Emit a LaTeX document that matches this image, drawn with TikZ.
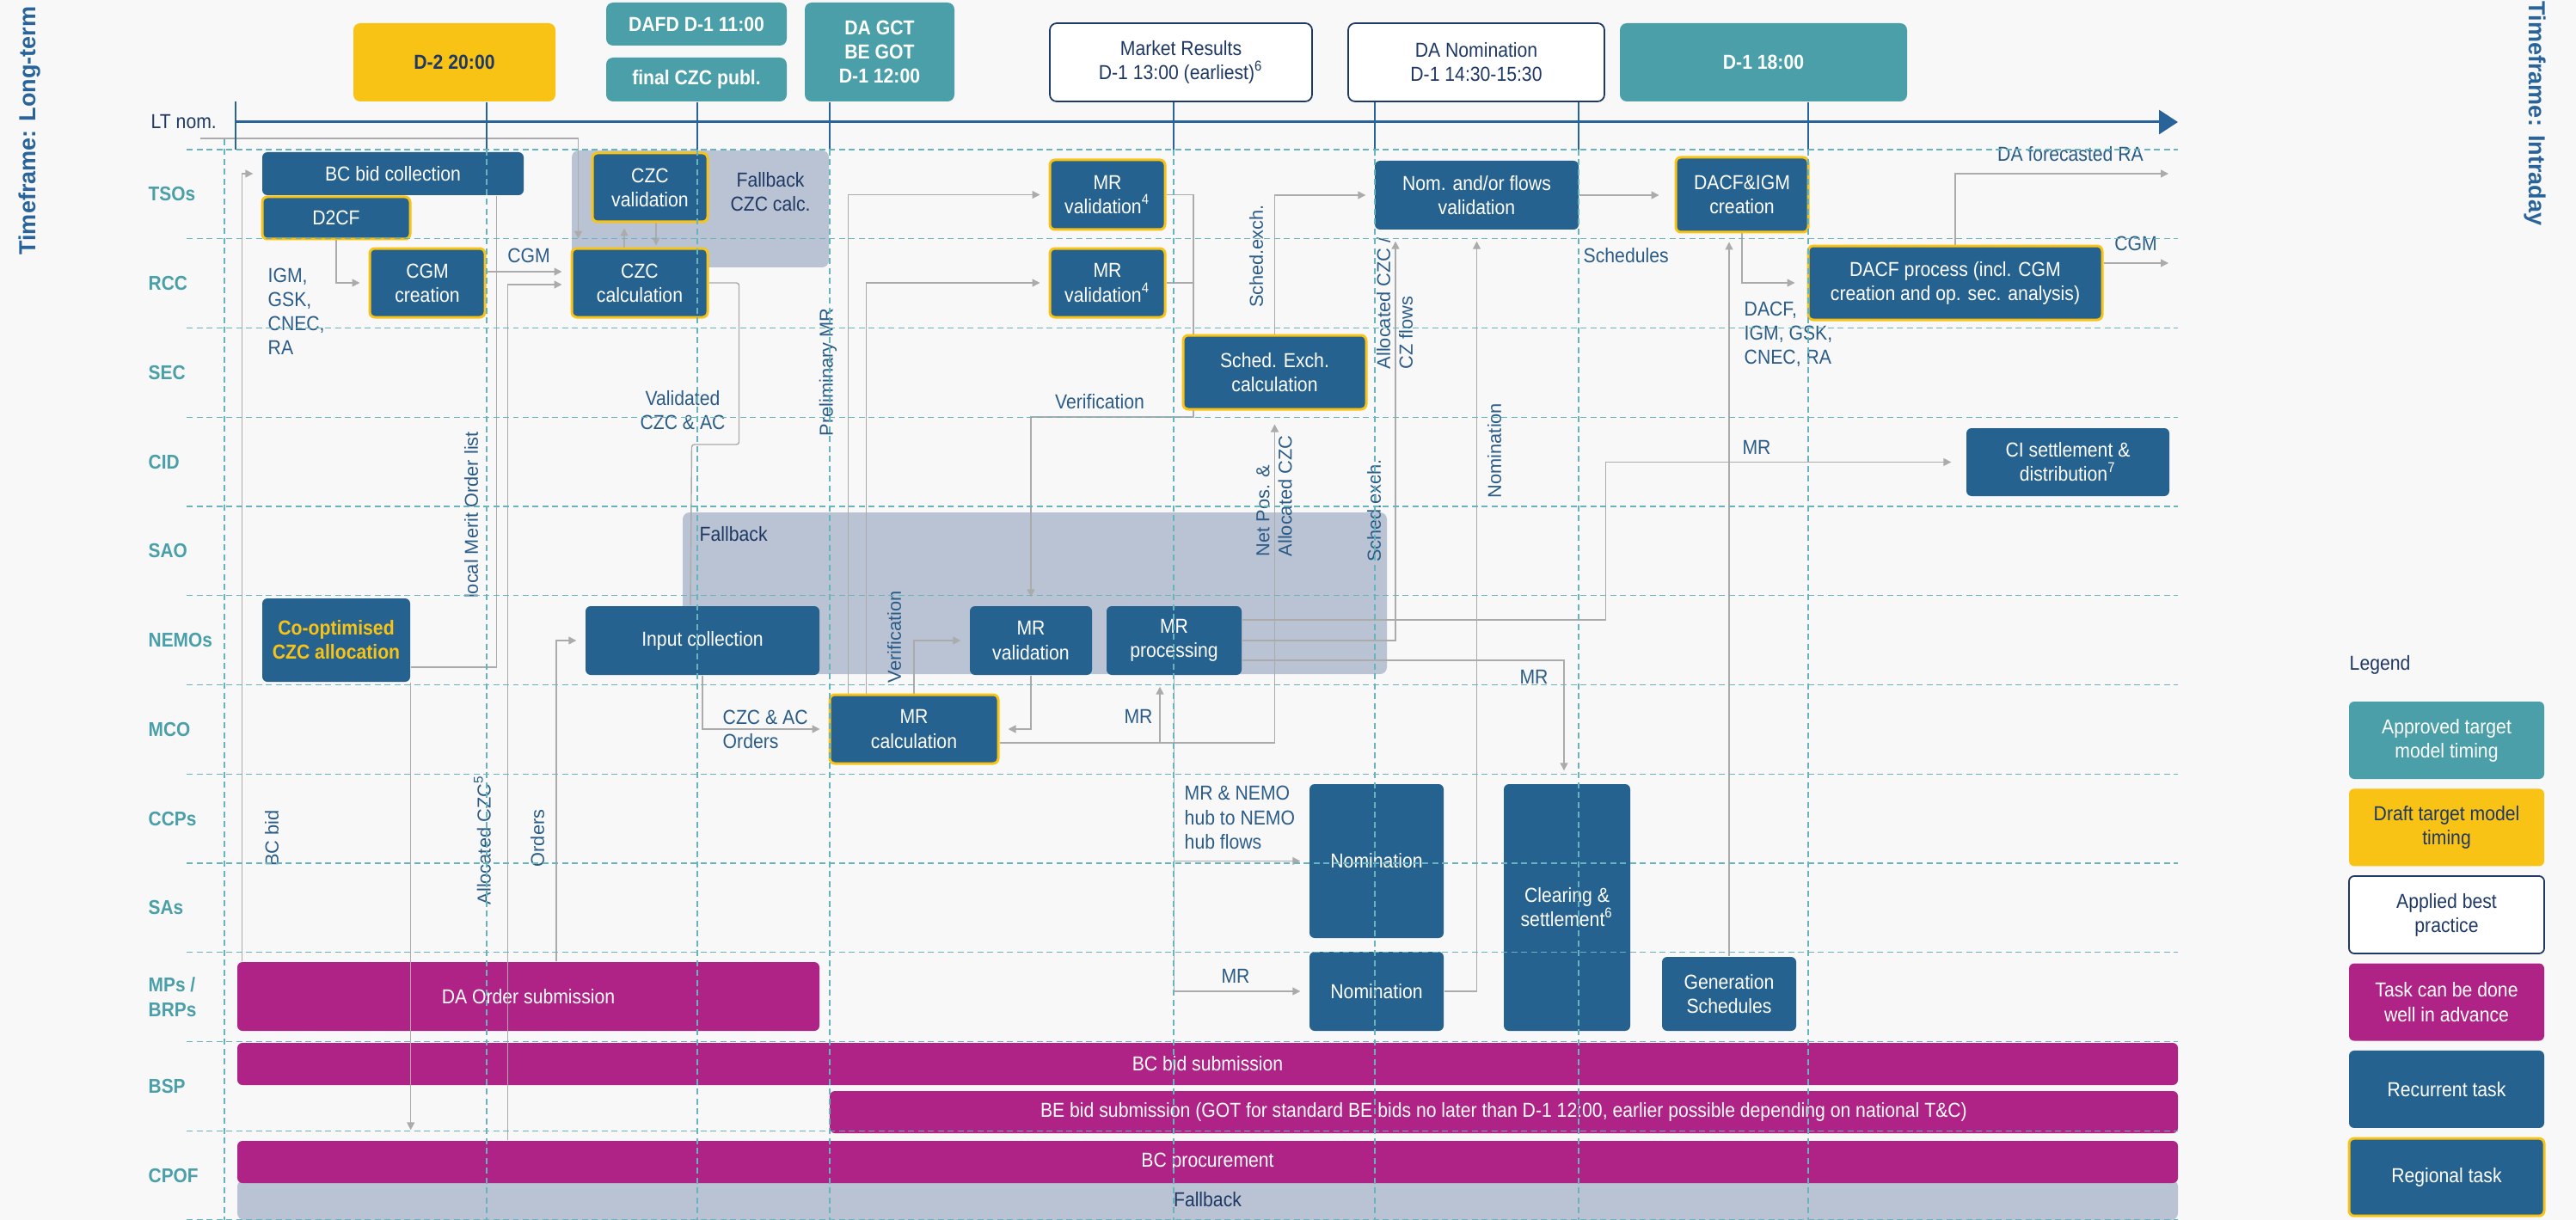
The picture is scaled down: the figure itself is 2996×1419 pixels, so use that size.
\documentclass[tikz,border=0pt]{standalone}
\usepackage{fontspec}
\setmainfont{Liberation Sans}[FakeStretch=0.9]
\newfontfamily\lblfont{Liberation Sans}
\usepackage{xcolor}
\usetikzlibrary{arrows.meta,positioning}

\pgfdeclarelayer{bg}
\pgfdeclarelayer{links}
\pgfdeclarelayer{grid}
\pgfsetlayers{bg,links,main,grid}

\definecolor{taskblue}{HTML}{26628F}
\definecolor{regyellow}{HTML}{F9C315}
\definecolor{tealc}{HTML}{4A9FA8}
\definecolor{advmag}{HTML}{B02386}
\definecolor{fbgray}{HTML}{B9C3D3}
\definecolor{linkgray}{HTML}{ABABAB}
\definecolor{labelblue}{HTML}{2B5C88}
\definecolor{navy}{HTML}{1F3864}
\definecolor{gridteal}{HTML}{68B4BC}
\definecolor{bgc}{HTML}{F8F8F8}
\definecolor{axisblue}{HTML}{28649A}

\begin{document}
\begin{tikzpicture}[
    x=0.1mm, y=-0.1mm,
    wh/.style 2 args={minimum width=#1mm, minimum height=#2mm},
    txt/.style={font=\fontsize{6.7}{8}\selectfont},
    task/.style={txt, fill=taskblue, text=white, rounded corners=0.6mm, align=center, inner sep=1pt},
    regional/.style={task, draw=regyellow, line width=0.3mm},
    advance/.style={task, fill=advmag},
    fbbox/.style={fill=fbgray, rounded corners=0.8mm, inner sep=0pt},
    mstone/.style={font={\fontsize{6.7}{8}\selectfont\bfseries}, fill=tealc, text=white, rounded corners=0.8mm, align=center, inner sep=1pt},
    best/.style={txt, fill=white, draw=navy, line width=0.5pt, text=navy, rounded corners=0.8mm, align=center, inner sep=1pt},
    legbox/.style={txt, align=center, rounded corners=0.6mm, text=white, wh={22.7}{9}},
    lbl/.style={txt, text=labelblue, inner sep=0pt, align=left},
    vlbl/.style={font={\lblfont\fontsize{6.2}{7.4}\selectfont}, text=labelblue, rotate=90, inner sep=0pt, align=left},
    lane/.style={font={\fontsize{6.6}{8}\selectfont\bfseries}, text=tealc, anchor=west, align=left, inner sep=0pt},
    title/.style={font={\lblfont\bfseries\fontsize{7.7}{9}\selectfont}, text=axisblue, inner sep=0pt},
    arr/.style={draw=linkgray, line width=0.4pt, shorten >=1mm, -{Triangle[length=0.9mm,width=0.9mm]}},
    link/.style={draw=linkgray, line width=0.4pt},
    gridh/.style={gridteal, line width=0.35pt, dash pattern=on 0.7mm off 0.45mm},
    msline/.style={axisblue, line width=0.35pt}
  ]
    \useasboundingbox (0,0) rectangle (2996,1419);

    \begin{pgfonlayer}{bg}
      \fill[bgc] (0,0) rectangle (2996,1419);
      % fallback areas
      \node[fbbox, wh={29.9}{13.6}] (fbczc) at (814.5,243) {};
      \node[fbbox, wh={81.9}{18.8}] (fbnemo) at (1203.5,690) {};
      % tasks that can be done in advance
      \node[advance, wh={67.7}{8}] (daorder) at (614.5,1159) {DA Order submission};
      \node[advance, wh={225.7}{4.9}] (bcbidsub) at (1404.5,1237.5) {BC bid submission};
      \node[advance, wh={156.8}{4.9}] (bebidsub) at (1749,1293.5) {BE bid submission (GOT for standard BE bids no later than D-1 12:00, earlier possible depending on national T\&C)};
      \node[fbbox, txt, text=navy, wh={225.7}{4.7}] (fbbottom) at (1404.5,1395.5) {Fallback};
      \node[advance, wh={225.7}{4.9}] (bcproc) at (1404.5,1351.5) {BC procurement};
    \end{pgfonlayer}

    % titles and lanes
    \node[title, rotate=90] (ttlong) at (35,152) {Timeframe: Long-term};
    \node[title, rotate=-90] (ttintra) at (2948,132) {Timeframe: Intraday};
    \node[lbl, anchor=west, text=navy] (ltnom) at (175,142) {LT nom.};
    \foreach \lname [count=\i from 0] in {TSOs,RCC,SEC,CID,SAO,NEMOs,MCO,CCPs,SAs,{MPs /\\BRPs},BSP,CPOF}
      \node[lane] (lane\i) at (172,{225.9+103.75*\i}) {\lname};

    % timeline
    \coordinate (tlstart) at (274,142);
    \coordinate (tlend) at (2533,142);
    \draw[axisblue, line width=0.3mm, -{Triangle[length=2.2mm,width=2.8mm]}] (tlstart) -- (tlend);
    \draw[msline] ([yshift=2.4mm]tlstart) -- ([yshift=-3.2mm]tlstart);
    \node[mstone, fill=regyellow, text=navy, wh={23.5}{9.1}] (msdtwo) at (528.5,72.5) {D-2 20:00};
    \node[mstone, wh={21}{5}] (msdafd) at (810,28) {DAFD D-1 11:00};
    \node[mstone, wh={21}{5.1}] (msfinal) at (810,92.5) {final CZC publ.};
    \node[mstone, wh={17.4}{11.5}] (msgct) at (1023,60.5) {DA GCT\\BE GOT\\D-1 12:00};
    \node[best, wh={30.5}{9.1}] (msmr) at (1373.5,72.5) {Market Results\\D-1 13:00 (earliest)\textsuperscript{6}};
    \node[best, wh={29.8}{9.1}] (msnom) at (1717,72.5) {DA Nomination\\D-1 14:30-15:30};
    \node[mstone, wh={33.4}{9.1}] (msdone) at (2051,72.5) {D-1 18:00};
    \draw[msline] ([xshift=3.75mm]msdtwo.south) -- ++(0,56);
    \draw[msline] ([xshift=0.1mm]msfinal.south) -- ++(0,56);
    \draw[msline] ([xshift=-5.8mm]msgct.south) -- ++(0,56);
    \draw[msline] ([xshift=-0.85mm]msmr.south) -- ++(0,56);
    \draw[msline] ([xshift=-11.8mm]msnom.south) -- ++(0,56);
    \draw[msline] ([xshift=11.9mm]msnom.south) -- ++(0,56);
    \draw[msline] ([xshift=5.2mm]msdone.south) -- ++(0,56);

    % TSOs / RCC / SEC
    \node[task, wh={30.4}{5}] (bcbid) at (457,202) {BC bid collection};
    \node[regional, wh={17.2}{4.9}] (dtwocf) at (391,253.5) {D2CF};
    \node[regional, wh={13.4}{8}] (cgm) at (497,329) {CGM\\creation};
    \node[regional, wh={13.4}{8}] (czcval) at (756,218) {CZC\\validation};
    \node[regional, wh={15.8}{8}] (czccalc) at (744,329) {CZC\\calculation};
    \node[txt, text=navy, align=center, inner sep=0pt] (lblfbczc) at (896,223) {Fallback\\CZC calc.};
    \node[regional, wh={13.4}{8.1}] (mrvaltso) at (1288,226.5) {MR\\validation\textsuperscript{4}};
    \node[regional, wh={13.4}{8}] (mrvalrcc) at (1288,329) {MR\\validation\textsuperscript{4}};
    \node[regional, wh={21.3}{8.6}] (schedexch) at (1482.5,433) {Sched. Exch.\\calculation};
    \node[task, wh={23.7}{8}] (nomval) at (1717.5,227) {Nom. and/or flows\\validation};
    \node[regional, wh={15.4}{8.7}] (dacfigm) at (2026,226.5) {DACF\&IGM\\creation};
    \node[regional, wh={34.2}{8.6}] (dacfproc) at (2274,329) {DACF process (incl. CGM\\creation and op. sec. analysis)};
    \node[task, wh={23.6}{7.9}] (cisettle) at (2405,537.5) {CI settlement \&\\distribution\textsuperscript{7}};

    % NEMOs / MCO
    \node[task, text=regyellow, font={\fontsize{6.7}{8}\selectfont\bfseries}, wh={17.2}{9.7}] (coopt) at (391,744.5) {Co-optimised\\CZC allocation};
    \node[txt, text=navy, anchor=west, inner sep=0pt] (lblfbnemo) at (813,621) {Fallback};
    \node[task, wh={27.2}{8}] (inputcoll) at (817,745) {Input collection};
    \node[task, wh={14.2}{8}] (mrvalnemo) at (1199,745) {MR\\validation};
    \node[task, wh={15.7}{8}] (mrproc) at (1365.5,745) {MR\\processing};
    \node[regional, wh={19.6}{8}] (mrcalc) at (1063,848) {MR\\calculation};

    % CCPs / SAs / MPs
    \node[task, wh={15.6}{17.9}] (nomccp) at (1601,1001.5) {Nomination};
    \node[task, wh={15.6}{9.2}] (nommp) at (1601,1153) {Nomination};
    \node[task, wh={14.7}{28.7}] (clearing) at (1822.5,1055.5) {Clearing \&\\settlement\textsuperscript{6}};
    \node[task, wh={15.6}{8.6}] (genschedule) at (2011,1156) {Generation\\Schedules};

    % legend
    \node[lbl, anchor=west, text=navy] (legend) at (2732,773) {Legend};
    \node[legbox, fill=tealc] (lgapproved) at (2845.5,861) {Approved target\\model timing};
    \node[legbox, fill=regyellow, text=navy, below=1mm of lgapproved] (lgdraft) {Draft target model\\timing};
    \node[legbox, fill=white, draw=navy, line width=0.5pt, text=navy, below=1mm of lgdraft] (lgbest) {Applied best\\practice};
    \node[legbox, fill=advmag, below=1mm of lgbest] (lgadvance) {Task can be done\\well in advance};
    \node[legbox, fill=taskblue, below=1mm of lgadvance] (lgrecur) {Recurrent task};
    \node[legbox, fill=taskblue, draw=regyellow, line width=0.3mm, below=1mm of lgrecur] (lgregion) {Regional task};

    % connector labels
    \node[lbl] (lblcgm) at (615,297) {CGM};
    \node[lbl, anchor=west] (lbligm) at (311,362) {IGM,\\GSK,\\CNEC,\\RA};
    \node[lbl, align=center] (lblvalid) at (794,477) {Validated\\CZC \& AC};
    \node[lbl, anchor=west] (lblczcac) at (840,848) {CZC \& AC\\Orders};
    \node[lbl] (lblverif) at (1279,467) {Verification};
    \node[lbl] (lblmrmco) at (1324,833) {MR};
    \node[lbl] (lblmrnemo) at (1784,787) {MR};
    \node[lbl] (lblmrcid) at (2043,520) {MR};
    \node[lbl, anchor=west] (lblsched) at (1841,297) {Schedules};
    \node[lbl, anchor=west] (lbldacf) at (2028,389) {DACF,\\IGM, GSK,\\CNEC, RA};
    \node[lbl] (lblcgmout) at (2484,283) {CGM};
    \node[lbl] (lblra) at (2408,179) {DA forecasted RA};
    \node[lbl, anchor=west] (lblhub) at (1377,951) {MR \& NEMO\\hub to NEMO\\hub flows};
    \node[lbl] (lblmrmp) at (1437,1135) {MR};
    \node[vlbl] (vlmol) at (548,599) {local Merit Order list};
    \node[vlbl] (vlbcbid) at (316,975) {BC bid};
    \node[vlbl] (vlalloc) at (561,977) {Allocated CZC\textsuperscript{5}};
    \node[vlbl] (vlorders) at (625,975) {Orders};
    \node[vlbl] (vlprelim) at (963,433) {Preliminary MR};
    \node[vlbl] (vlverif) at (1040,741) {Verification};
    \node[vlbl] (vlnetpos) at (1482,577) {Net Pos. \&\\Allocated CZC};
    \node[vlbl] (vlschedup) at (1461,298) {Sched.exch.};
    \node[vlbl] (vlschedlow) at (1598,594) {Sched.exch.};
    \node[vlbl] (vlczflows) at (1622,353) {Allocated CZC /\\CZ flows};
    \node[vlbl] (vlnom) at (1738,524) {Nomination};

    \begin{pgfonlayer}{links}
      \coordinate (ltstart) at (233,161);
      \coordinate (verifturn) at (1388,485);
      \coordinate (cgmout) at (2522,306);
      \coordinate (raout) at (2522,202);
      \draw[arr] (ltstart) -| ([xshift=0.9mm]czccalc.north west);
      \draw[arr] ([xshift=0.6mm]daorder.north west) |- (bcbid.west);
      \draw[arr] (dtwocf.south) |- (cgm.west);
      \draw[arr] ([yshift=1.3mm]cgm.east) -- ([yshift=1.3mm]czccalc.west);
      \draw[arr] ([xshift=31.5mm]bcproc.north west) |- ([yshift=-0.2mm]czccalc.west);
      \draw[arr, shorten >=0.6mm] ([xshift=-1.8mm]czccalc.north) -- ([xshift=-1.8mm]czccalc.north |- czcval.south);
      \draw[arr, shorten >=0.2mm] ([xshift=0.7mm]czcval.south) -- ([xshift=0.7mm]czcval.south |- czccalc.north);
      \draw[link] ([xshift=-3.2mm]bcbid.south east) |- ([yshift=-3.15mm]coopt.east);
      \draw[arr, shorten >=1.2mm] (coopt.south east) -- (coopt.south east |- bcproc.north);
      \draw[arr] ([xshift=3.25mm]daorder.north) |- (inputcoll.west);
      \draw[link, rounded corners=0.3mm] (czccalc.east) -- ++(35,0) -- ++(0,188) -- ++(-55,0) -- ([xshift=-1.4mm]inputcoll.north);
      \draw[arr] (inputcoll.south) |- (mrcalc.west);
      \draw[arr] (mrcalc.north) |- (mrvalnemo.west);
      \draw[arr] (mrvalnemo.south) |- (mrcalc.east);
      \draw[arr, shorten >=1.3mm] ([yshift=-1.6mm]mrcalc.east) -| ([xshift=-1.65mm]mrproc.south);
      \draw[arr, shorten >=1.6mm] ([yshift=-1.6mm]mrcalc.east) -| (schedexch.south);
      \draw[arr] ([xshift=2.3mm]mrcalc.north west) |- (mrvaltso.west);
      \draw[arr] ([xshift=4.4mm]mrcalc.north west) |- (mrvalrcc.west);
      \draw[link] (mrvalrcc.east) -| (verifturn);
      \draw[arr] (mrvaltso.east) -| (verifturn) -| (mrvalnemo.north);
      \draw[arr] (schedexch.north) |- (nomval.west);
      \draw[arr, shorten >=1.8mm] (nomval.east) -- (nomval.east -| dacfigm.west);
      \draw[arr, shorten >=1.4mm] (dacfigm.south) |- (dacfproc.west);
      \draw[arr, shorten >=0pt] (dacfproc.east |- cgmout) -- (cgmout);
      \draw[arr, shorten >=0pt] (dacfproc.north) |- (raout);
      \draw[arr] (genschedule.north) -- (genschedule.north |- dacfigm.south);
      \draw[arr, shorten >=1.7mm] ([yshift=2.4mm]mrproc.east) -- ++(423,0) |- (cisettle.west);
      \draw[arr, shorten >=1.3mm] (mrproc.east) -| ([xshift=-9.45mm]nomval.south);
      \draw[arr, shorten >=1.5mm] ([yshift=-2.3mm]mrproc.east) -| ([xshift=-0.35mm]clearing.north);
      \draw[arr] (mrproc.south) |- (nomccp.west);
      \draw[arr] (mrproc.south) |- (nommp.west);
      \draw[arr, shorten >=1.3mm] (nommp.east) -| (nomval.south);
    \end{pgfonlayer}

    \begin{pgfonlayer}{grid}
      \foreach \i in {0,...,12}
        \draw[gridh] (217,{174+103.75*\i}) -- (2533,{174+103.75*\i});
      \foreach \gx in {566,811,965,1365,1599,1836,2103}
        \draw[gridh] (\gx,174) -- (\gx,1419);
      \draw[gridh] (261,162) -- (261,1419);
    \end{pgfonlayer}
  \end{tikzpicture}
\end{document}
